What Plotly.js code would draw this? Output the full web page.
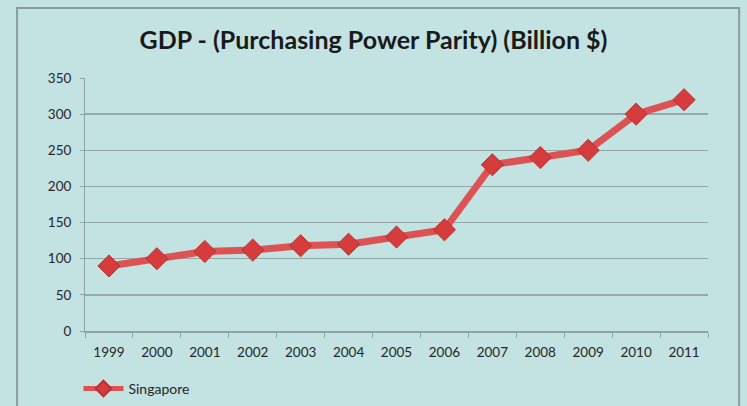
<!DOCTYPE html>
<html>
<head>
<meta charset="utf-8">
<script src="https://cdn.plot.ly/plotly-3.0.1.min.js"></script>
<style>
html,body{margin:0;padding:0;background:#c3e2e2;}
#chart{width:747px;height:406px;}
</style>
</head>
<body>
<div id="chart"></div>
<script>
const years = ['1999','2000','2001','2002','2003','2004','2005','2006','2007','2008','2009','2010','2011'];
const gdp = [90, 100, 110, 112, 118, 120, 130, 140, 230, 240, 250, 300, 320];
const seriesName = 'Singapore';
const titleText = 'GDP - (Purchasing Power Parity) (Billion $)';

const trace = {
  x: years, y: gdp, name: seriesName, type: 'scatter', mode: 'lines+markers',
  line: {color: '#dd5252', width: 7},
  marker: {symbol: 'diamond', size: 17, color: '#d63c3c', line: {color: '#b83030', width: 1}}
};

const layout = {
  width: 747, height: 406,
  paper_bgcolor: '#c3e2e2', plot_bgcolor: '#c3e2e2',
  margin: {l: 85, r: 39, t: 78, b: 75, autoexpand: false},
  font: {family: 'Lato, "Open Sans", sans-serif', color: '#262626', size: 13},
  title: {text: '<b>' + titleText + '</b>', x: 0.5, xanchor: 'center', y: 0.9, yanchor: 'middle',
          font: {family: 'Lato, "Open Sans", sans-serif', size: 25, color: '#1a1a1a'}},
  xaxis: {type: 'category', showgrid: false, showline: true, linecolor: '#8fa3a3', linewidth: 1.5,
          ticks: 'outside', ticklen: 5, tickcolor: '#8fa3a3', tickson: 'boundaries',
          ticklabelstandoff: 8,
          tickfont: {size: 13.5, color: '#262626'}, range: [-0.5, 12.5]},
  yaxis: {range: [0, 350], dtick: 50, showgrid: true, gridcolor: '#93a9a9', gridwidth: 1.5,
          showline: true, linecolor: '#8fa3a3', linewidth: 1, zeroline: false,
          ticks: 'outside', ticklen: 4, tickcolor: '#8fa3a3', ticklabelstandoff: 6,
          tickfont: {size: 13.5, color: '#262626'}},
  showlegend: true,
  legend: {orientation: 'h', xref: 'container', yref: 'container', x: 0.105, xanchor: 'left',
           y: 0.042, yanchor: 'middle', itemsizing: 'constant', itemwidth: 40,
           bgcolor: 'rgba(0,0,0,0)', font: {size: 14, color: '#262626'}},
  shapes: [{type: 'rect', xref: 'paper', yref: 'paper', x0: -0.109, x1: 1.05, y0: -0.4, y1: 1.277,
            line: {color: '#8a9c9c', width: 2}, fillcolor: 'rgba(0,0,0,0)', layer: 'below'}]
};

Plotly.newPlot('chart', [trace], layout, {displayModeBar: false, staticPlot: true});
</script>
</body>
</html>
